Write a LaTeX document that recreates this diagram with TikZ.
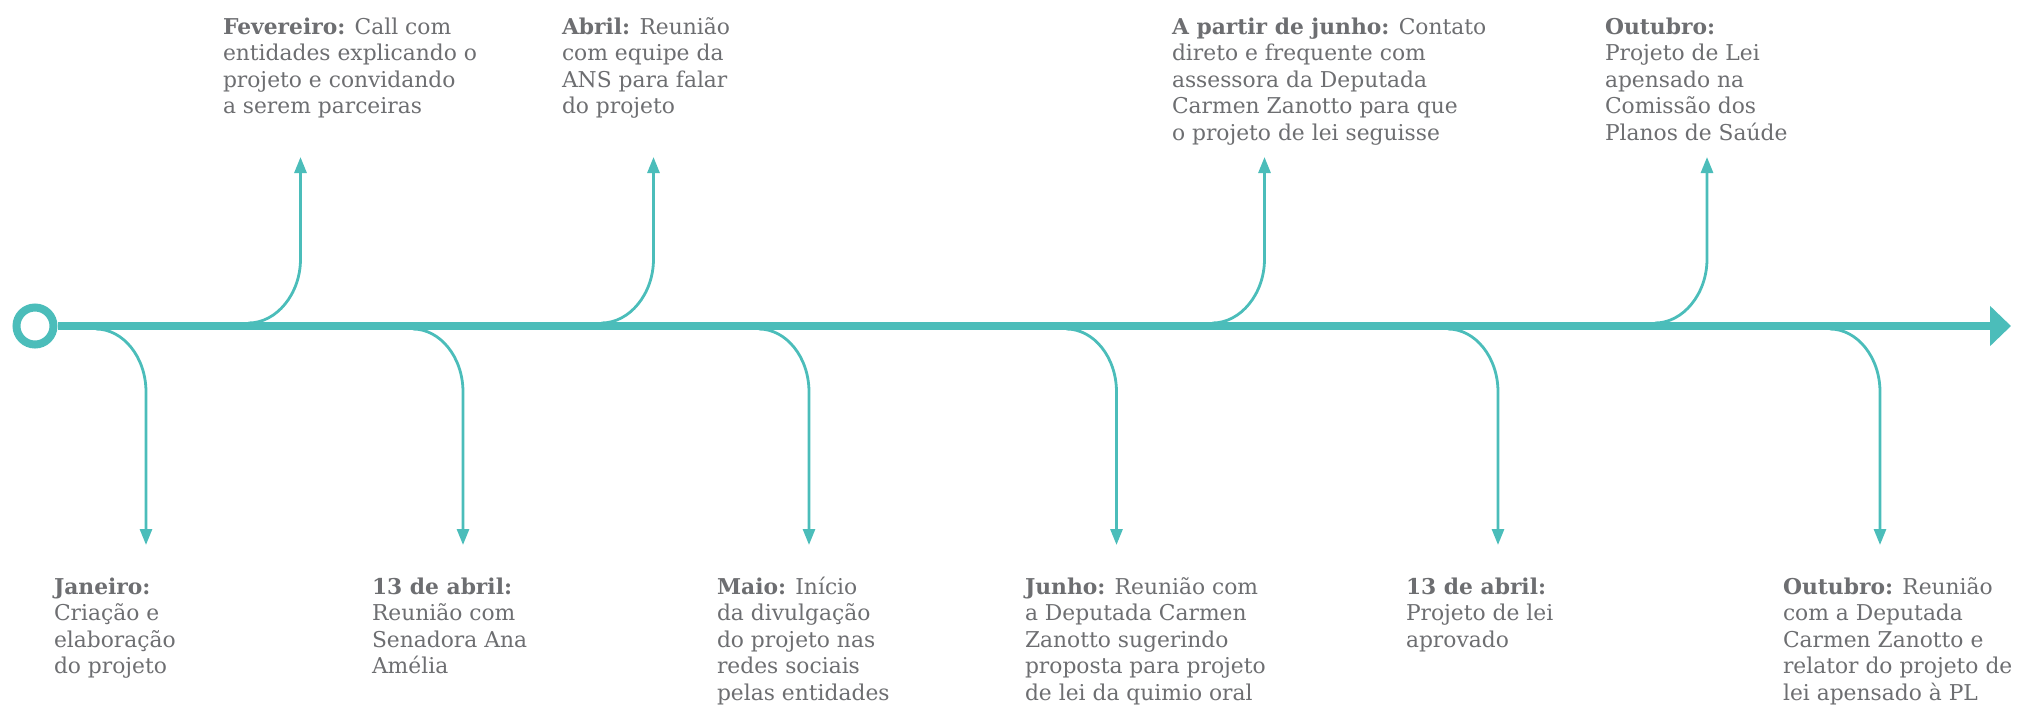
\documentclass[tikz,border=0pt]{standalone}
\usepackage{fontspec}
\setmainfont{DejaVu Serif}
\usetikzlibrary{arrows.meta}
\definecolor{tl}{HTML}{4BBDBA}
\definecolor{tx}{HTML}{6D6E71}
\newcommand\fstrut{\rule{0pt}{18pt}}
\begin{document}
\begin{tikzpicture}[x=1pt,y=-1pt,
  lbl/.style={anchor=north west, inner sep=0pt, outer sep=0pt, align=left, text=tx,
              font=\fontsize{21.8}{26.5}\selectfont},
  branch/.style={draw=tl, line width=2.8pt, -{Triangle[length=16pt,width=12pt]}},
]
\useasboundingbox (0,0) rectangle (2018,705);

% main timeline
\node[circle, draw=tl, line width=8pt, minimum size=37pt, inner sep=0pt] (start) at (35,326) {};
\coordinate (tip) at (2011,326);
\draw[tl, line width=8.5pt, -{Triangle[length=21pt,width=39pt]}] (start.east) -- (tip);

% upward branches
\coordinate (f0) at (248.5,323);  \coordinate (f1) at (300.5,157);
\coordinate (a0) at (601.5,323);  \coordinate (a1) at (653.5,157);
\coordinate (p0) at (1212.5,323); \coordinate (p1) at (1264.5,157);
\coordinate (o0) at (1655,323);   \coordinate (o1) at (1707,157);
\foreach \s/\e in {f0/f1,a0/a1,p0/p1,o0/o1}
  \draw[branch] (\s) .. controls +(28,0) and +(0,35) .. ++(52,-64) -- (\e);

% downward branches
\coordinate (j0) at (96,329);     \coordinate (j1) at (146,545);
\coordinate (b0) at (413,329);    \coordinate (b1) at (463,545);
\coordinate (m0) at (759,329);    \coordinate (m1) at (809,545);
\coordinate (u0) at (1066.5,329); \coordinate (u1) at (1116.5,545);
\coordinate (c0) at (1448,329);   \coordinate (c1) at (1498,545);
\coordinate (d0) at (1830,329);   \coordinate (d1) at (1880,545);
\foreach \s/\e in {j0/j1,b0/b1,m0/m1,u0/u1,c0/c1,d0/d1}
  \draw[branch] (\s) .. controls +(27,0) and +(0,-35) .. ++(50,63) -- (\e);

% top labels
\node[lbl] (fev) at (223,16) {\fstrut\textbf{Fevereiro:} Call com\\entidades explicando o\\projeto e convidando\\a serem parceiras};
\node[lbl] (abr) at (562,16) {\fstrut\textbf{Abril:} Reunião\\com equipe da\\ANS para falar\\do projeto};
\node[lbl] (apj) at (1172,16) {\fstrut\textbf{A partir de junho:} Contato\\direto e frequente com\\assessora da Deputada\\Carmen Zanotto para que\\o projeto de lei seguisse};
\node[lbl] (outt) at (1605,16) {\fstrut\textbf{Outubro:}\\Projeto de Lei\\apensado na\\Comissão dos\\Planos de Saúde};

% bottom labels
\node[lbl] (jan) at (54,576) {\fstrut\textbf{Janeiro:}\\Criação e\\elaboração\\do projeto};
\node[lbl] (a13) at (372,576) {\fstrut\textbf{13 de abril:}\\Reunião com\\Senadora Ana\\Amélia};
\node[lbl] (mai) at (717,576) {\fstrut\textbf{Maio:} Início\\da divulgação\\do projeto nas\\redes sociais\\pelas entidades};
\node[lbl] (jun) at (1025,576) {\fstrut\textbf{Junho:} Reunião com\\a Deputada Carmen\\Zanotto sugerindo\\proposta para projeto\\de lei da quimio oral};
\node[lbl] (b13) at (1406,576) {\fstrut\textbf{13 de abril:}\\Projeto de lei\\aprovado};
\node[lbl] (outb) at (1783,576) {\fstrut\textbf{Outubro:} Reunião\\com a Deputada\\Carmen Zanotto e\\relator do projeto de\\lei apensado à PL};
\end{tikzpicture}
\end{document}
